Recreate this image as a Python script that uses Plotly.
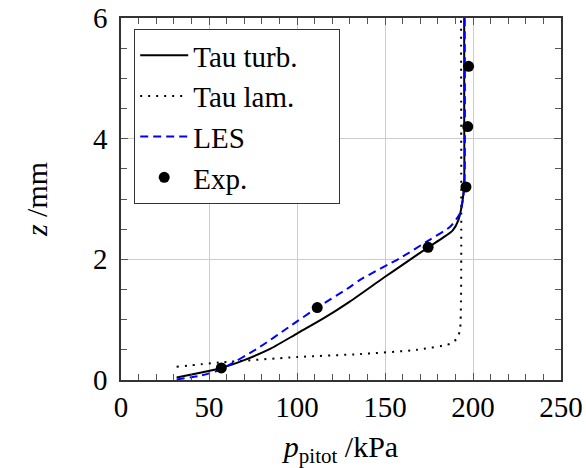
import plotly.graph_objects as go

# Tau turb.
turb_p = [31.6, 45, 57, 70, 85, 100, 115, 130, 149, 162, 174.6, 183, 188.5, 191.7, 194.1, 195, 195, 195]
turb_z = [0.04, 0.12, 0.2, 0.33, 0.52, 0.77, 1.02, 1.30, 1.69, 1.95, 2.2, 2.36, 2.48, 2.65, 2.98, 3.3, 4.5, 6.0]
# Tau lam.
lam_p = [31.6, 56.3, 100, 135.8, 168, 187, 191, 192.6, 193.2, 193.2]
lam_z = [0.22, 0.29, 0.38, 0.43, 0.5, 0.6, 0.69, 0.83, 1.33, 6.0]
# LES
les_p = [31.6, 45, 56.3, 79, 95, 111.6, 130, 135.8, 158.5, 174.6, 187, 192.6, 194.5, 195.2, 195.3]
les_z = [0.01, 0.07, 0.17, 0.55, 0.87, 1.2, 1.54, 1.66, 2.02, 2.31, 2.54, 2.76, 3.04, 3.3, 6.0]
# Exp.
exp_p = [57, 111.5, 174.5, 196, 197, 197.5]
exp_z = [0.2, 1.2, 2.2, 3.2, 4.2, 5.2]

names = ["Tau turb.", "Tau lam.", "LES", "Exp."]
PAD = "\u00a0" * 5

FONT = "'Liberation Serif', 'Times New Roman', Times, serif"

fig = go.Figure()
fig.add_trace(go.Scatter(x=turb_p, y=turb_z, mode="lines", name=names[0] + PAD,
                         line=dict(color="black", width=2, shape="spline", smoothing=0.6)))
fig.add_trace(go.Scatter(x=lam_p, y=lam_z, mode="lines", name=names[1],
                         line=dict(color="black", width=2, dash="2px,6px", shape="spline", smoothing=0.6)))
fig.add_trace(go.Scatter(x=les_p, y=les_z, mode="lines", name=names[2],
                         line=dict(color="blue", width=2, dash="8px,5px", shape="spline", smoothing=0.6)))
fig.add_trace(go.Scatter(x=exp_p, y=exp_z, mode="markers", name=names[3],
                         marker=dict(color="black", size=11)))

axis_common = dict(
    showline=True, linecolor="#333", linewidth=1.5, mirror="ticks",
    ticks="inside", ticklen=7, tickcolor="#555", tickwidth=1,
    showgrid=True, gridcolor="#cccccc", gridwidth=1,
    zeroline=False, automargin=False,
    tickfont=dict(family=FONT, size=29, color="black"),
)

fig.update_xaxes(range=[0, 250], tickvals=[0, 50, 100, 150, 200, 250],
                 minor=dict(dtick=10, ticks="inside", ticklen=6, tickcolor="#555", showgrid=False),
                 title=dict(text="<i>p</i><sub>pitot</sub> /kPa", font=dict(family=FONT, size=30, color="black"),
                            standoff=18),
                 **axis_common)
fig.update_yaxes(range=[0, 6], tickvals=[0, 2, 4, 6],
                 minor=dict(dtick=0.5, ticks="inside", ticklen=6, tickcolor="#555", showgrid=False),
                 title=dict(text="<i>z</i> /mm", font=dict(family=FONT, size=30, color="black"),
                            standoff=36),
                 ticklabelstandoff=6,
                 **axis_common)

fig.update_layout(
    width=586, height=468,
    margin=dict(l=121, r=25, t=18, b=88),
    plot_bgcolor="white", paper_bgcolor="white",
    font=dict(family=FONT, color="black"),
    legend=dict(x=0.03, y=0.97, xanchor="left", yanchor="top",
                bgcolor="white", bordercolor="#333", borderwidth=1,
                font=dict(family=FONT, size=29, color="black"),
                itemwidth=48, tracegroupgap=0),
    showlegend=True,
)

fig.write_html("out.html")
